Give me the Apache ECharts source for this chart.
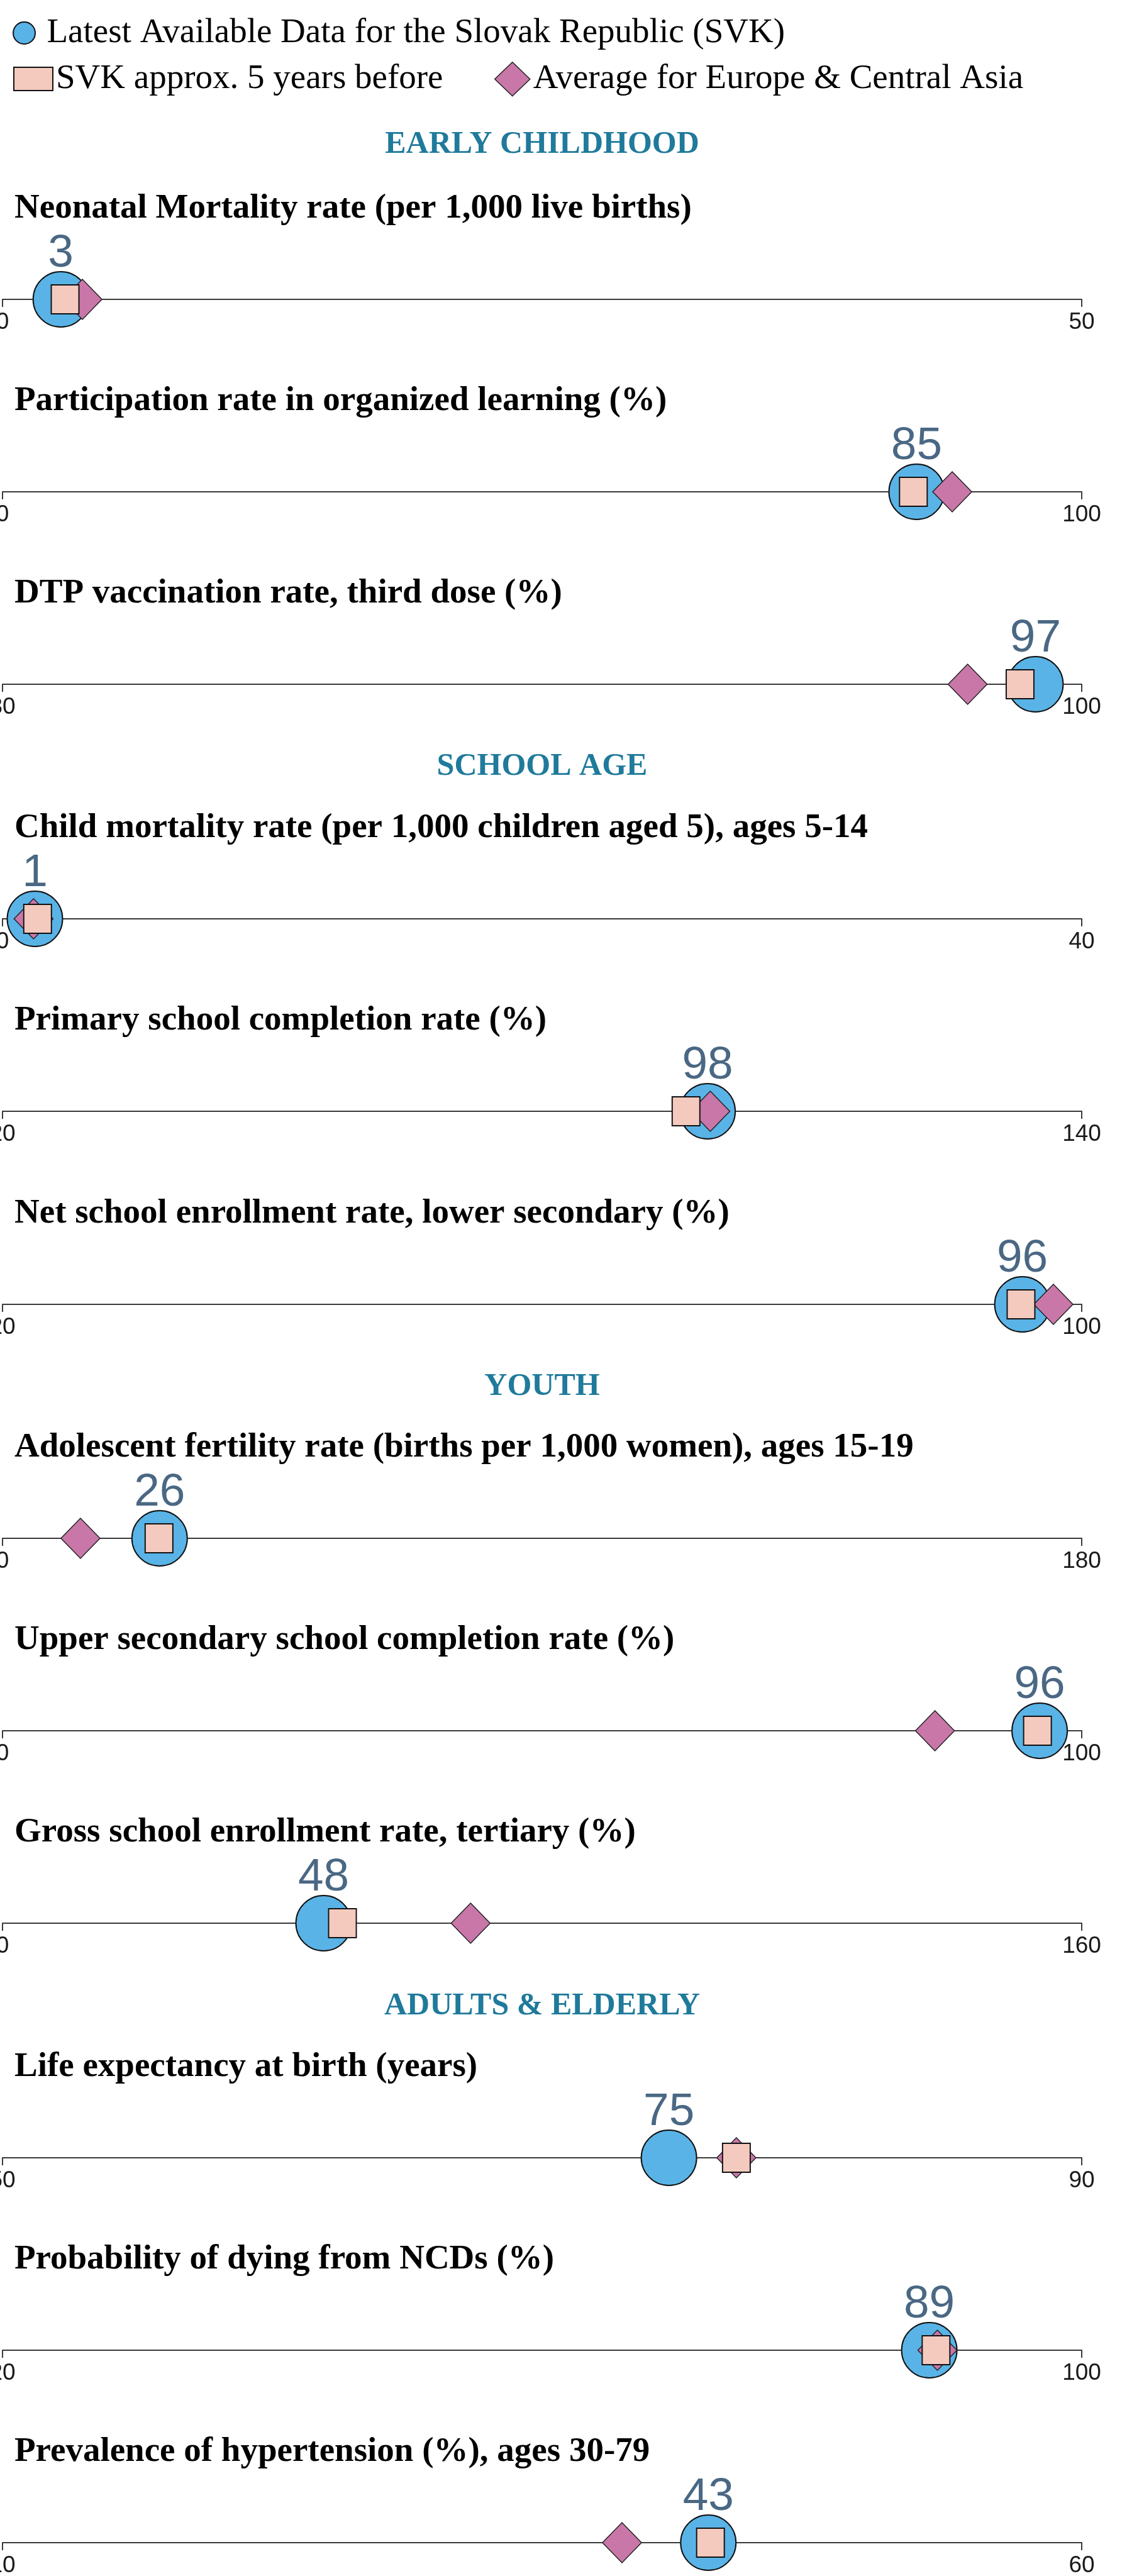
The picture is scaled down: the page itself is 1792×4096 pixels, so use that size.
<!DOCTYPE html>
<html>
<head>
<meta charset="utf-8">
<script src="https://cdn.jsdelivr.net/npm/echarts@6/dist/echarts.min.js"></script>
<style>
  html, body { margin: 0; padding: 0; background: #fff; }
  #chart { width: 1792px; height: 4096px; }
</style>
</head>
<body>
<div id="chart"></div>
<script>
// indicator titles, top to bottom
const indicators = [
    'Neonatal Mortality rate (per 1,000 live births)',
    'Participation rate in organized learning (%)',
    'DTP vaccination rate, third dose (%)',
    'Child mortality rate (per 1,000 children aged 5), ages 5-14',
    'Primary school completion rate (%)',
    'Net school enrollment rate, lower secondary (%)',
    'Adolescent fertility rate (births per 1,000 women), ages 15-19',
    'Upper secondary school completion rate (%)',
    'Gross school enrollment rate, tertiary (%)',
    'Life expectancy at birth (years)',
    'Probability of dying from NCDs (%)',
    'Prevalence of hypertension (%), ages 30-79'
];
const sections = ['EARLY CHILDHOOD', 'SCHOOL AGE', 'YOUTH', 'ADULTS & ELDERLY'];
const seriesNames = [
    'Latest Available Data for the Slovak Republic (SVK)',
    'SVK approx. 5 years before',
    'Average for Europe & Central Asia'
];

// axis ranges (only the two end labels are shown)
const axisMin = [0, 0, 30, 0, 20, 20, 0, 0, 0, 50, 20, 10];
const axisMax = [50, 100, 100, 40, 140, 100, 180, 100, 160, 90, 100, 60];

// values
const latest = [2.7, 84.7, 97.0, 1.2, 98.4, 95.6, 26.2, 96.1, 47.6, 74.7, 88.7, 42.7];
const fiveYearsBefore = [2.9, 84.4, 96.0, 1.3, 96.0, 95.5, 26.1, 95.9, 50.4, 77.2, 89.2, 42.8];
const regionAverage = [3.7, 88.0, 92.6, 1.15, 98.7, 97.9, 13.0, 86.4, 69.4, 77.2, 89.3, 38.7];

// layout: y of every axis line and centre of every section heading
const axisY = [476, 782, 1088, 1461, 1767, 2074, 2446, 2752, 3058, 3431, 3737, 4043];
const sectionY = [230, 1219, 2205, 3190];

const serif = "'Liberation Serif', 'Times New Roman', serif";
const sans = "'Liberation Sans', Arial, sans-serif";
const axisLeft = 4, axisRight = 1720;

var myChart = echarts.init(document.getElementById('chart'));

const grids = [], xAxes = [], yAxes = [], series = [], titles = [];

sections.forEach((s, i) => {
    titles.push({
        text: s,
        left: (axisLeft + axisRight) / 2,
        textAlign: 'center',
        top: sectionY[i] - 25,
        padding: 0,
        textStyle: { fontFamily: serif, fontWeight: 'bold', fontSize: 50, color: '#1f7a9b' }
    });
});

indicators.forEach((name, i) => {
    titles.push({
        text: name,
        left: 23,
        top: axisY[i] - 172,
        padding: 0,
        textStyle: { fontFamily: serif, fontWeight: 'bold', fontSize: 55, color: '#000' }
    });
    // thin grid whose bottom edge is the axis line; points sit at y = 0
    grids.push({
        left: axisLeft, width: axisRight - axisLeft, top: axisY[i] - 10, height: 10,
        containLabel: false, outerBoundsMode: 'none'
    });
    xAxes.push({
        type: 'value',
        gridIndex: i,
        position: 'bottom',
        min: axisMin[i],
        max: axisMax[i],
        axisLine: { onZero: false, lineStyle: { color: '#3a3a3a', width: 2 } },
        axisTick: { show: true, length: 12, lineStyle: { color: '#3a3a3a', width: 2 },
                    customValues: [axisMin[i], axisMax[i]] },
        axisLabel: { fontFamily: sans, fontSize: 37, color: '#1a1a1a', margin: 18,
                     alignMinLabel: 'center', alignMaxLabel: 'center',
                     customValues: [axisMin[i], axisMax[i]] },
        splitLine: { show: false }
    });
    yAxes.push({ type: 'value', gridIndex: i, min: 0, max: 1, show: false });

    series.push({
        name: seriesNames[0],
        type: 'scatter',
        xAxisIndex: i, yAxisIndex: i,
        clip: false,
        symbol: 'circle',
        symbolSize: 88,
        z: 2,
        itemStyle: { color: '#59b3e6', borderColor: '#111', borderWidth: 2, opacity: 1 },
        label: {
            show: true,
            position: 'inside',
            offset: [0, -72],
            formatter: p => Math.round(p.value[0]),
            fontFamily: sans,
            fontSize: 73,
            color: '#4a6884'
        },
        data: [[latest[i], 0]]
    });
    series.push({
        name: seriesNames[2],
        type: 'scatter',
        xAxisIndex: i, yAxisIndex: i,
        clip: false,
        symbol: 'diamond',
        symbolSize: [62, 64],
        z: 3,
        itemStyle: { color: '#c877a8', borderColor: '#222', borderWidth: 1.5, opacity: 1 },
        data: [[regionAverage[i], 0]]
    });
    series.push({
        name: seriesNames[1],
        type: 'scatter',
        xAxisIndex: i, yAxisIndex: i,
        clip: false,
        symbol: 'rect',
        symbolSize: [44, 46],
        z: 4,
        itemStyle: { color: '#f4cabf', borderColor: '#111', borderWidth: 2, opacity: 1 },
        data: [[fiveYearsBefore[i], 0]]
    });
});

const legendText = { fontFamily: serif, fontSize: 55, color: '#000' };

var option = {
    animation: false,
    backgroundColor: '#fff',
    title: titles,
    legend: [
        { data: [{ name: seriesNames[0], icon: 'circle' }], left: 20, top: 25, padding: 0,
          itemWidth: 62, itemHeight: 35, textStyle: legendText,
          itemStyle: { borderColor: '#111', borderWidth: 2 } },
        { data: [{ name: seriesNames[1], icon: 'rect' }], left: 21, top: 98, padding: 0,
          itemWidth: 62, itemHeight: 37, textStyle: legendText,
          itemStyle: { borderColor: '#111', borderWidth: 2 } },
        { data: [{ name: seriesNames[2], icon: 'diamond' }], left: 786, top: 98, padding: 0,
          itemWidth: 56, itemHeight: 54, textStyle: legendText,
          itemStyle: { borderColor: '#222', borderWidth: 1.5 } }
    ],
    grid: grids,
    xAxis: xAxes,
    yAxis: yAxes,
    series: series
};

myChart.setOption(option);
</script>
</body>
</html>
